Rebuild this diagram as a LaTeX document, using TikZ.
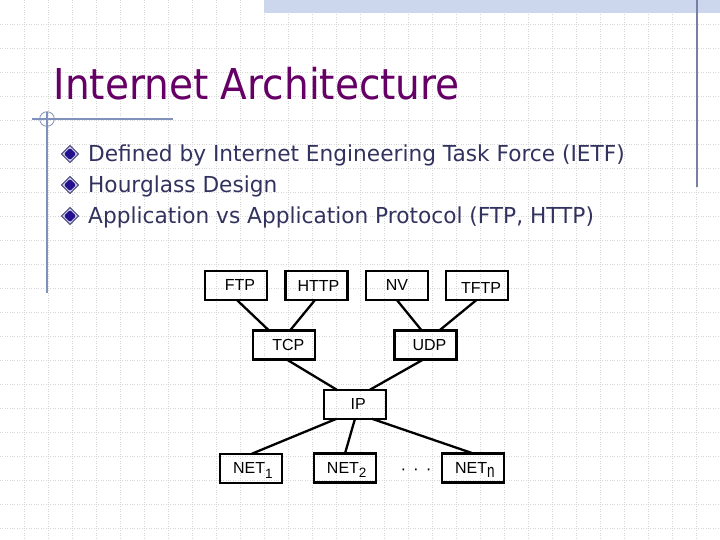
\documentclass[tikz,border=0pt]{standalone}
\usepackage{fontspec}
\setmainfont{DejaVu Sans}
\newfontfamily\diafont{Liberation Sans}
\usetikzlibrary{calc}
\definecolor{titlecol}{RGB}{102,0,102}
\definecolor{textcol}{RGB}{50,50,95}
\definecolor{rulecol}{RGB}{128,146,188}
\definecolor{rulecoltwo}{RGB}{118,128,165}
\definecolor{gridcol}{RGB}{214,214,214}
\definecolor{bandcol}{RGB}{204,215,238}
\definecolor{bulletedge}{RGB}{60,60,110}
\definecolor{bulletring}{RGB}{205,205,235}
\definecolor{bulletcore}{RGB}{36,16,140}
\tikzset{
  gridline/.style={draw=gridcol, line width=0.8pt, dash pattern=on 1pt off 1.4pt},
  box/.style={draw=black, line width=2.3pt, minimum width=62pt, minimum height=29pt,
    inner sep=0pt, outer sep=0pt, text height=11.3pt, text depth=0pt,
    font=\diafont\fontsize{16}{17}\selectfont},
  conn/.style={draw=black, line width=2.3pt},
  bullettext/.style={anchor=base west, inner sep=0pt, text=textcol,
    font=\fontsize{22}{24}\selectfont},
  titletext/.style={anchor=base west, inner sep=0pt, text=titlecol,
    font=\fontsize{42.5}{44}\selectfont}
}
\newcommand{\subsc}[1]{\raisebox{-4.2pt}{\fontsize{13.5}{14}\selectfont #1}}
\begin{document}
\begin{tikzpicture}[x=1pt,y=-1pt]
\useasboundingbox (0,0) rectangle (720,540);
% background grid
\foreach \i in {1,...,30} \draw[gridline] (24*\i,0) -- (24*\i,540);
\foreach \j in {1,...,22} \draw[gridline] (0,24*\j) -- (720,24*\j);
% top band
\fill[bandcol] (264,0) rectangle (720,13);
% rules
\draw[rulecoltwo, line width=1.3pt] (697,0) -- (697,187);
\draw[rulecol, line width=1.3pt] (47,112) -- (47,293);
\draw[rulecol, line width=1.3pt] (32,119) -- (173,119);
\draw[rulecol, line width=0.8pt] (47,119) circle (7.3);
% title
\node[titletext] (title) at (53.5,100) {\scalebox{0.918}[1]{Internet Architecture}};
% bullets
\foreach \yy in {154,185,216} {
  \filldraw[draw=bulletedge, fill=bulletring, line width=1pt]
    (70,\yy-8.5) -- (78.5,\yy) -- (70,\yy+8.5) -- (61.5,\yy) -- cycle;
  \fill[bulletcore, rounded corners=1.5pt]
    (70,\yy-6.2) -- (76.2,\yy) -- (70,\yy+6.2) -- (63.8,\yy) -- cycle;
}
\node[bullettext] (b1) at (88,162) {\scalebox{0.985}[1]{Defined by Internet Engineering Task Force (IETF)}};
\node[bullettext] (b2) at (88,193) {\scalebox{0.985}[1]{Hourglass Design}};
\node[bullettext] (b3) at (88,224) {\scalebox{0.985}[1]{Application vs Application Protocol (FTP, HTTP)}};
% diagram boxes
\node[box] (ftp)  at (236,285.3)   {\hspace*{8pt}FTP};
\node[box] (http) at (316.5,285.5) {\hspace*{4pt}HTTP};
\node[box] (nv)   at (397,285.3)   {NV};
\node[box] (tftp) at (477,285.3)   {\hspace*{8pt}\raisebox{-2.5pt}{TFTP}};
\node[box] (tcp)  at (284.3,345)   {\hspace*{8pt}TCP};
\node[box] (udp)  at (425.5,345)   {\hspace*{8pt}UDP};
\node[box] (ip)   at (354.7,404.2) {\hspace*{7pt}IP};
\node[box] (net1) at (250.8,468.3) {\hspace*{4pt}NET\subsc{1}};
\node[box] (net2) at (344.7,468)   {\hspace*{4pt}NET\subsc{2}};
\node[box] (netn) at (472.8,468)   {\hspace*{4pt}NET\subsc{\scalebox{1}[1.4]{n}}};
\node[inner sep=0pt, font=\diafont\fontsize{17}{17}\selectfont] (dots) at (416,471.5)
  {·\hspace{7pt}·\hspace{7pt}·};
% connectors
\draw[conn] ([xshift=0.7pt]ftp.south) -- ([xshift=-15.3pt]tcp.north);
\draw[conn] ([xshift=-1.5pt]http.south) -- ([xshift=5.7pt]tcp.north);
\draw[conn] ([xshift=-0.3pt]nv.south) -- ([xshift=-3.8pt]udp.north);
\draw[conn] ([xshift=-0.3pt]tftp.south) -- ([xshift=13.8pt]udp.north);
\draw[conn] ([xshift=2.4pt]tcp.south) -- ([xshift=-18pt]ip.north);
\draw[conn] ([xshift=-2.2pt]udp.south) -- ([xshift=15.3pt]ip.north);
\draw[conn] ([xshift=-18pt]ip.south) -- ([xshift=0.9pt]net1.north);
\draw[conn] ([xshift=0.3pt]ip.south) -- ([xshift=0.3pt]net2.north);
\draw[conn] ([xshift=17pt]ip.south) -- ([xshift=0.5pt]netn.north);
\end{tikzpicture}
\end{document}
